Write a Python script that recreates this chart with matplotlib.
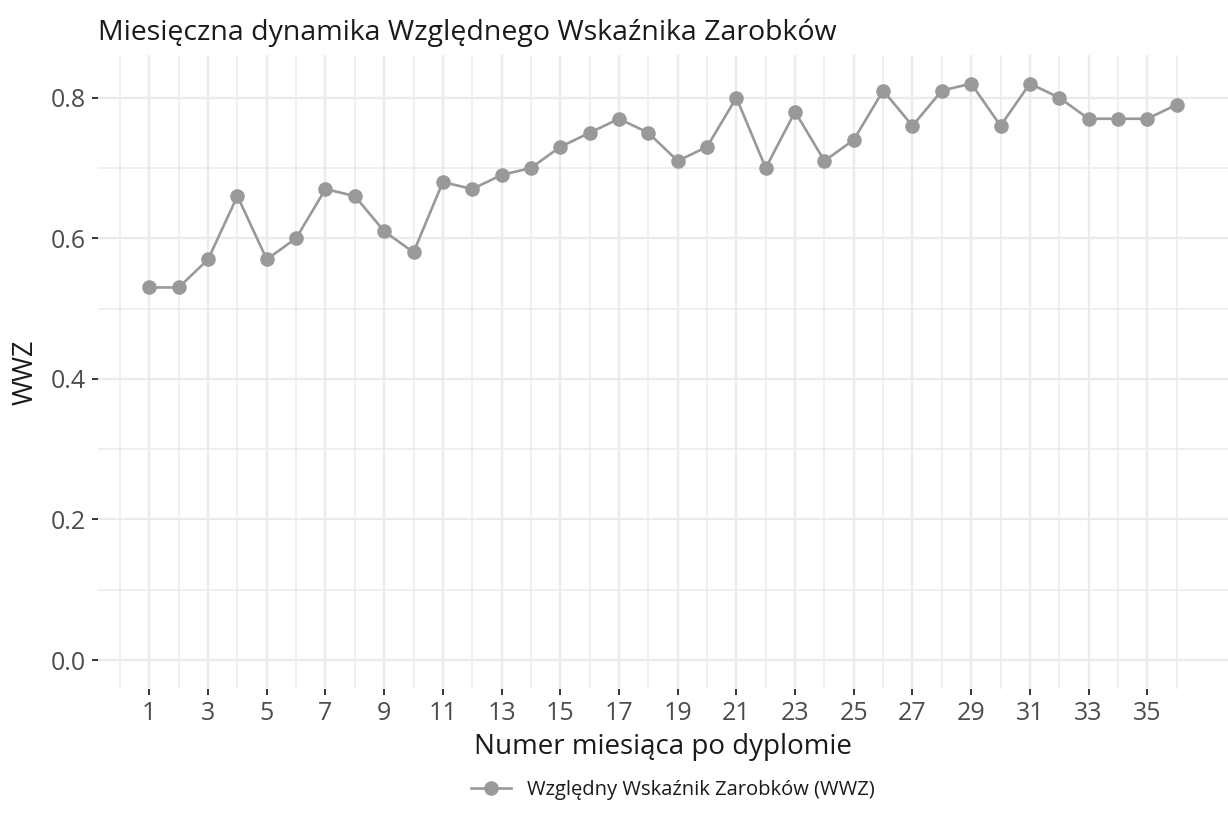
import numpy as np
import matplotlib.pyplot as plt

# monthly WWZ values
months = list(range(1, 37))
wwz = [0.53, 0.53, 0.57, 0.66, 0.57, 0.60, 0.67, 0.66, 0.61, 0.58,
       0.68, 0.67, 0.69, 0.70, 0.73, 0.75, 0.77, 0.75, 0.71, 0.73,
       0.80, 0.70, 0.78, 0.71, 0.74, 0.81, 0.76, 0.81, 0.82, 0.76,
       0.82, 0.80, 0.77, 0.77, 0.77, 0.79]
x_ticks = list(range(1, 36, 2))
y_ticks = [0.0, 0.2, 0.4, 0.6, 0.8]

plt.rcParams['font.family'] = ['Open Sans', 'DejaVu Sans']

fig = plt.figure(figsize=(12.28, 8.30), dpi=100)
ax = fig.add_axes([0.0798, 0.170, 0.9202, 0.764])

line_col = '#999999'
ax.plot(months, wwz, color=line_col, lw=1.9, marker='o', markersize=10.5,
        markeredgewidth=0, label='Względny Wskaźnik Zarobków (WWZ)', zorder=3)

# ggplot-like expansion
xr = max(months) - min(months)
ax.set_xlim(min(months) - 0.05 * xr, max(months) + 0.05 * xr)
ax.set_ylim(-0.05 * max(wwz), max(wwz) * 1.05)

ax.set_xticks(x_ticks)
ax.set_xticks([m for m in range(0, 38) if m % 2 == 0], minor=True)
ax.set_yticks(y_ticks)
ax.set_yticks([0.1, 0.3, 0.5, 0.7], minor=True)
ax.set_yticklabels(['%.1f' % v for v in y_ticks])

ax.grid(True, which='major', color='#ebebeb', lw=1.7)
ax.grid(True, which='minor', color='#ebebeb', lw=1.1)
ax.set_axisbelow(True)
for s in ax.spines.values():
    s.set_visible(False)

ax.tick_params(axis='both', which='major', length=4.5, width=1.4, color='#333333',
               labelsize=18, labelcolor='#4d4d4d', pad=4)
ax.tick_params(axis='both', which='minor', length=0)

ax.set_xlabel('Numer miesiąca po dyplomie', fontsize=20, color='#1a1a1a', labelpad=5)
ax.set_ylabel('WWZ', fontsize=19.5, color='#1a1a1a', labelpad=8)
ax.set_title('Miesięczna dynamika Względnego Wskaźnika Zarobków', fontsize=20.5,
             color='#1a1a1a', loc='left', pad=11)

fig.legend(loc='center', bbox_to_anchor=(0.548, 0.048), frameon=False,
           fontsize=14.5, handlelength=2.0, labelcolor='#1a1a1a')

fig.savefig('out.png', dpi=100)
